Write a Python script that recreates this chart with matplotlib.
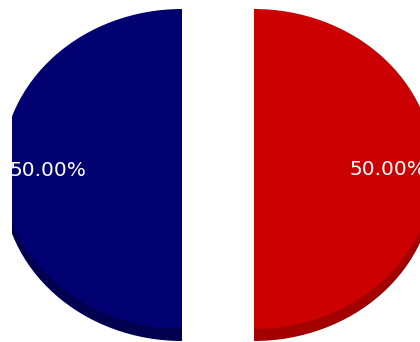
import matplotlib
matplotlib.use("Agg")
import matplotlib.pyplot as plt
from matplotlib.patches import Wedge

# Data
categories = ["A", "B"]
values = [50, 50]
top_colors = ["#000070", "#cc0000"]
side_colors = ["#00004f", "#a30000"]

fig = plt.figure(figsize=(4.2, 3.42), dpi=100)
ax = fig.add_axes([12 / 420, 0, 408 / 420, 1])

wedges, texts, autotexts = ax.pie(
    values,
    colors=top_colors,
    startangle=90,
    counterclock=True,
    explode=[0.2, 0.2],
    autopct="%.2f%%",
    pctdistance=0.744,
    textprops=dict(color="white", fontsize=14.5, family="DejaVu Sans"),
    wedgeprops=dict(linewidth=0, zorder=3),
    radius=1,
)

depth = 12 / 160
for w, c in zip(wedges, side_colors):
    w.set_clip_on(True)
    cx, cy = w.center
    rim = Wedge((cx, cy - depth), w.r, w.theta1, w.theta2, facecolor=c,
                linewidth=0, zorder=2)
    ax.add_patch(rim)

for t in autotexts:
    t.set_clip_on(True)
    t.set_zorder(5)
    x, y = t.get_position()
    t.set_position((x, y - 1 / 160))

ax.set_aspect("auto")
ax.set_xlim((12 - 218) / 180, (420 - 218) / 180)
ax.set_ylim((169 - 342) / 160, (169 - 0) / 160)
ax.axis("off")

fig.savefig("out.png", dpi=100)
